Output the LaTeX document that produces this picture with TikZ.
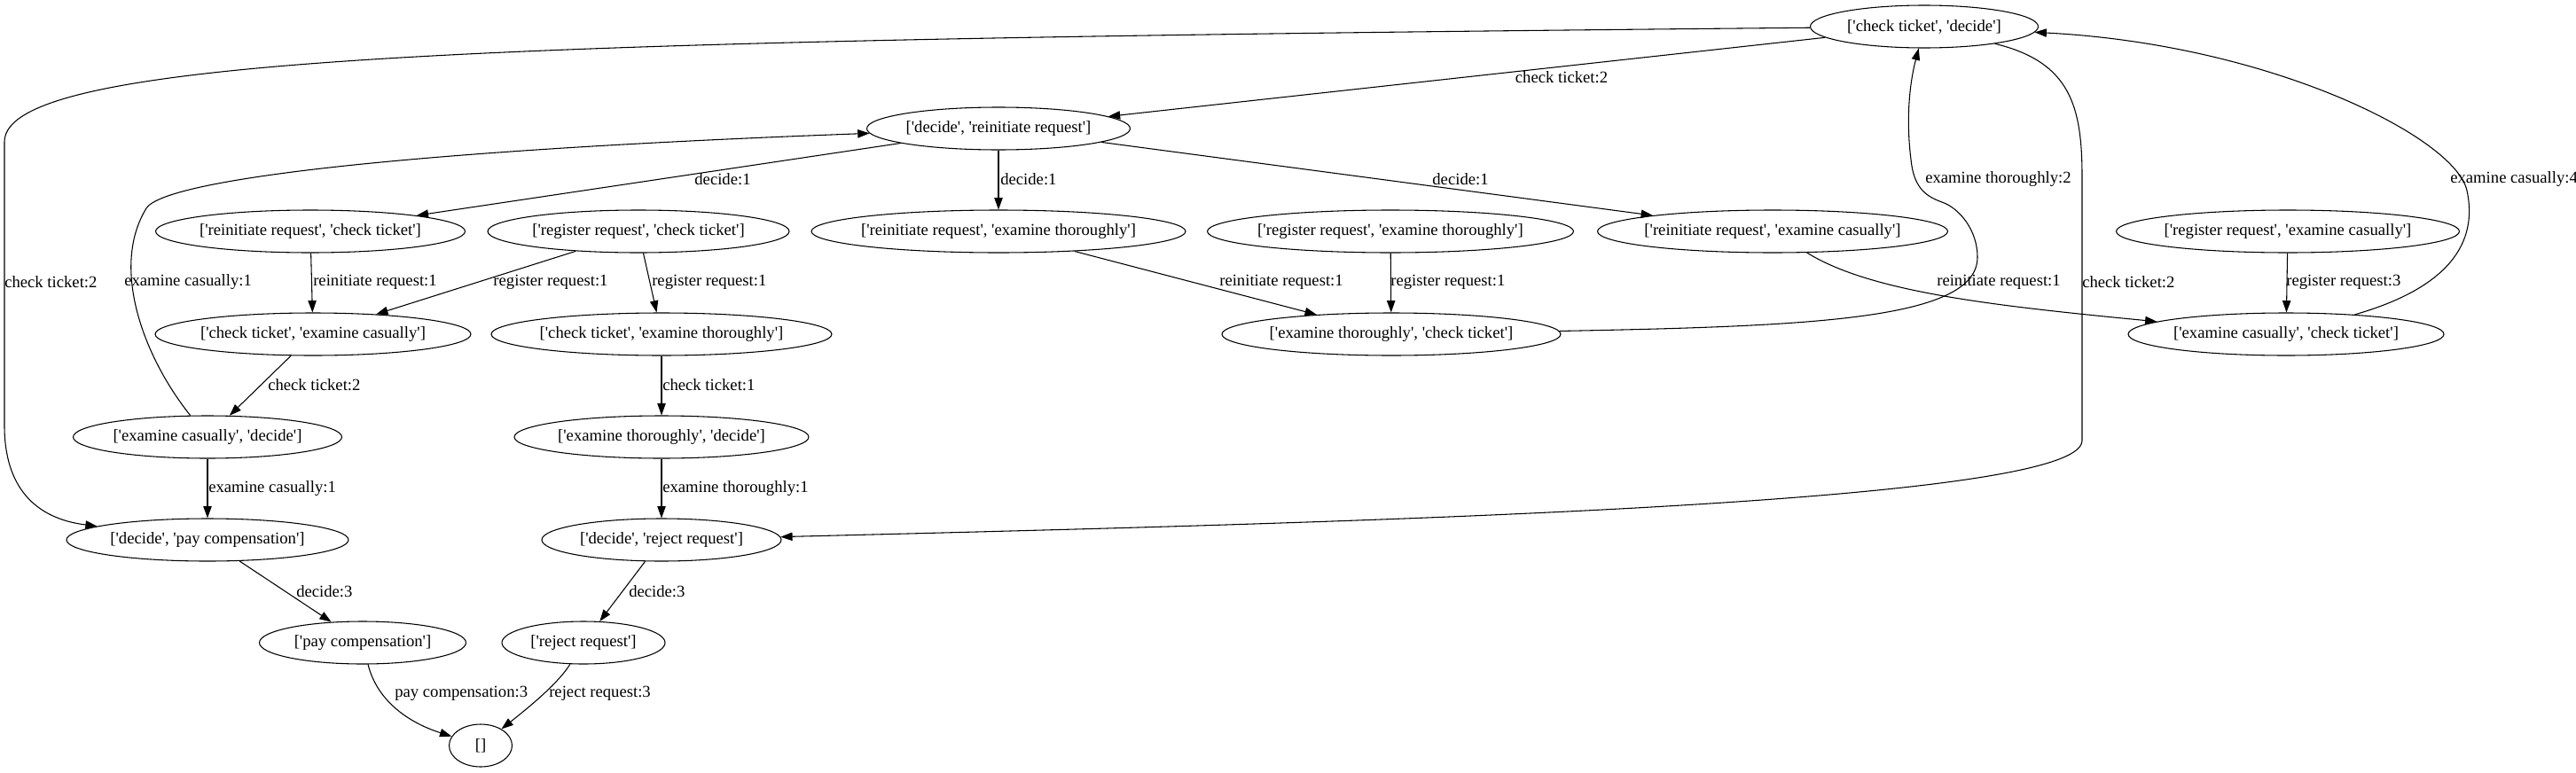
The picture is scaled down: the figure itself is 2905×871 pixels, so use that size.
\documentclass[tikz,border=0pt]{standalone}
\usepackage{fontspec}
\newfontfamily\gvfont{Liberation Serif}
\usetikzlibrary{shapes.geometric,arrows.meta}
\begin{document}
\begin{tikzpicture}[x=0.75pt,y=-0.75pt,
  every node/.style={font=\gvfont\fontsize{14}{16}\selectfont},
  st/.style={draw, ellipse, inner sep=0pt, minimum height=36pt, line width=0.8pt, minimum width=0.75*#1 pt},
  lbl/.style={inner sep=0pt, anchor=west},
  lblc/.style={inner sep=0pt},
  ed/.style={draw, line width=0.8pt, -{Triangle[length=10pt,width=7pt]}}]
\useasboundingbox (0,0) rectangle (2905,871);
\newcommand{\tx}[1]{\makebox[0pt]{#1}}
% nodes
\node[st=257] (cd)  at (2170,30)  {\tx{['check ticket', 'decide']}};
\node[st=297] (dr)  at (1126,145) {\tx{['decide', 'reinitiate request']}};
\node[st=349] (rc)  at (350,261)  {\tx{['reinitiate request', 'check ticket']}};
\node[st=340] (gc)  at (720,261)  {\tx{['register request', 'check ticket']}};
\node[st=422] (rt)  at (1126,261) {\tx{['reinitiate request', 'examine thoroughly']}};
\node[st=413] (gt)  at (1568,261) {\tx{['register request', 'examine thoroughly']}};
\node[st=395] (rca) at (1999,261) {\tx{['reinitiate request', 'examine casually']}};
\node[st=387] (gca) at (2580,261) {\tx{['register request', 'examine casually']}};
\node[st=356] (cca) at (353,377)  {\tx{['check ticket', 'examine casually']}};
\node[st=384] (cet) at (746,377)  {\tx{['check ticket', 'examine thoroughly']}};
\node[st=382] (et)  at (1569,377) {\tx{['examine thoroughly', 'check ticket']}};
\node[st=356] (ect) at (2578,377) {\tx{['examine casually', 'check ticket']}};
\node[st=303] (ecd) at (234,493)  {\tx{['examine casually', 'decide']}};
\node[st=332] (etd) at (746,493)  {\tx{['examine thoroughly', 'decide']}};
\node[st=318] (dpc) at (234,609)  {\tx{['decide', 'pay compensation']}};
\node[st=270] (drj) at (746,609)  {\tx{['decide', 'reject request']}};
\node[st=233] (pc)  at (409,725)  {\tx{['pay compensation']}};
\node[st=184] (rr)  at (658,725)  {\tx{['reject request']}};
\node[st=71]  (e)   at (542,841)  {\tx{[]}};
% edges
\draw[ed] (cd) -- (dr);
\draw[ed] (cd) .. controls (600,45) and (5,60) .. (5,160) -- (5,480) .. controls (5,550) and (40,585) .. (dpc);
\draw[ed] (dr) -- (rc);
\draw[ed] (dr) -- (rt);
\draw[ed] (dr) -- (rca);
\draw[ed] (ecd) .. controls (160,400) and (125,300) .. (165,235) .. controls (185,203) and (450,170) .. (dr);
\draw[ed] (rc) -- (cca);
\draw[ed] (gc) -- (cca);
\draw[ed] (gc) -- (cet);
\draw[ed] (cca) -- (ecd);
\draw[ed] (cet) -- (etd);
\draw[ed] (ecd) -- (dpc);
\draw[ed] (etd) -- (drj);
\draw[ed] (cd) .. controls (2335,70) and (2348,120) .. (2348,200) -- (2348,497) .. controls (2348,570) and (1500,590) .. (drj);
\draw[ed] (rt) -- (et);
\draw[ed] (gt) -- (et);
\draw[ed] (et) .. controls (2050,368) and (2230,360) .. (2230,290) .. controls (2230,260) and (2210,235) .. (2190,228) .. controls (2170,221) and (2158,210) .. (2155,180) .. controls (2150,140) and (2152,100) .. (cd);
\draw[ed] (rca) .. controls (2110,330) and (2250,345) .. (ect);
\draw[ed] (gca) -- (ect);
\draw[ed] (ect) .. controls (2760,325) and (2795,275) .. (2782,215) .. controls (2769,155) and (2560,50) .. (cd);
\draw[ed] (dpc) -- (pc);
\draw[ed] (drj) -- (rr);
\draw[ed] (pc) .. controls (425,790) and (460,815) .. (e);
\draw[ed] (rr) .. controls (630,770) and (600,795) .. (e);
% labels
\node[lblc] (l1) at (1761,87) {check ticket:2};
\node[lbl] (l2) at (5,318) {check ticket:2};
\node[lblc] (l3) at (815,202) {decide:1};
\node[lbl] (l4) at (1128,202) {decide:1};
\node[lblc] (l5) at (1647,202) {decide:1};
\node[lbl] (l6) at (140,318) {examine casually:1};
\node[lbl] (l7) at (353,318) {reinitiate request:1};
\node[lblc] (l8) at (621,318) {register request:1};
\node[lbl] (l9) at (735,318) {register request:1};
\node[lbl] (l10) at (302,434) {check ticket:2};
\node[lbl] (l11) at (747,434) {check ticket:1};
\node[lbl] (l12) at (235,551) {examine casually:1};
\node[lbl] (l13) at (747,551) {examine thoroughly:1};
\node[lbl] (l14) at (2348,318) {check ticket:2};
\node[lbl] (l15) at (1375,318) {reinitiate request:1};
\node[lbl] (l16) at (1568,318) {register request:1};
\node[lbl] (l17) at (2171,202) {examine thoroughly:2};
\node[lbl] (l18) at (2184,318) {reinitiate request:1};
\node[lbl] (l19) at (2578,318) {register request:3};
\node[lbl] (l20) at (2763,202) {examine casually:4};
\node[lbl] (l21) at (334,667) {decide:3};
\node[lbl] (l22) at (709,667) {decide:3};
\node[lbl] (l23) at (445,782) {pay compensation:3};
\node[lbl] (l24) at (619,782) {reject request:3};
\end{tikzpicture}
\end{document}
